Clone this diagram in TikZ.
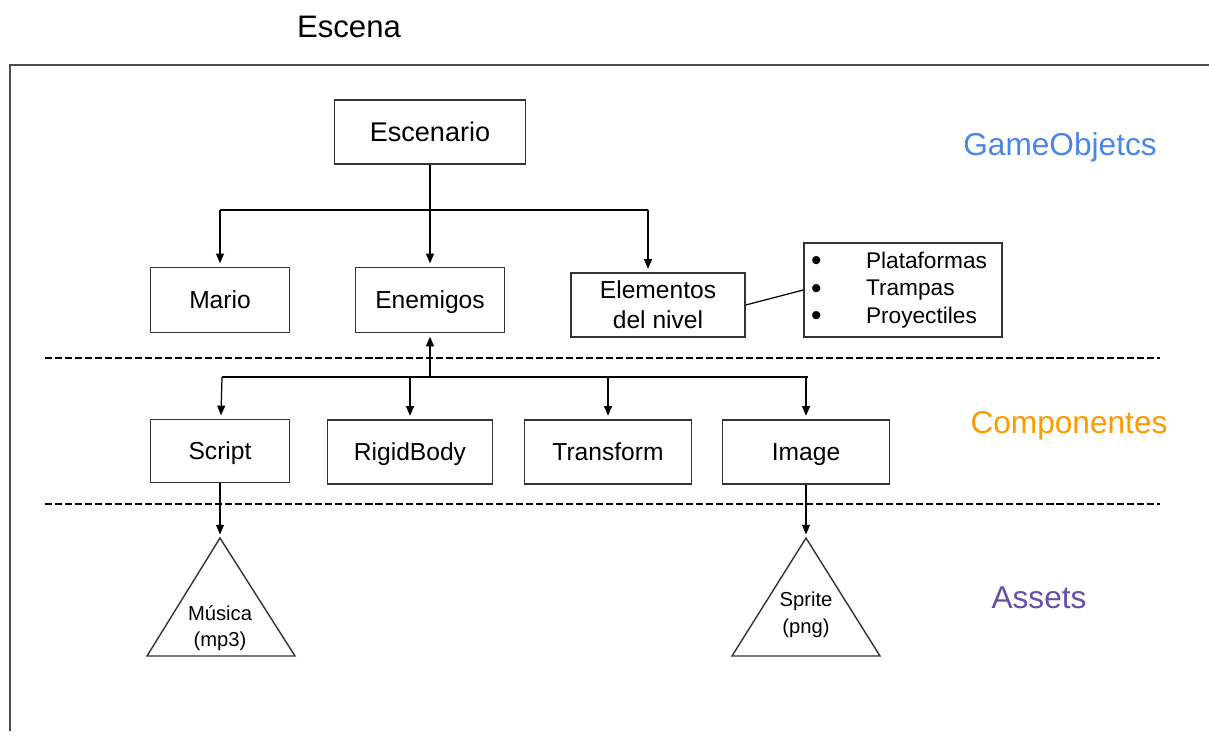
\documentclass[tikz,border=0pt]{standalone}
\usepackage{fontspec}
\setmainfont{Liberation Sans}
\usetikzlibrary{arrows.meta}

\definecolor{azulgo}{HTML}{4A86E8}
\definecolor{naranja}{HTML}{FF9900}
\definecolor{morado}{HTML}{674EA7}

\newcommand{\punto}{\makebox[1.1cm][l]{\smash{\raisebox{-0.1em}{\fontsize{17}{15}\selectfont•}}}}

\begin{document}
\begin{tikzpicture}[x=0.02cm,y=-0.02cm,
  caja/.style={draw=black!80,line width=0.8pt,minimum height=1.3cm,inner sep=0pt,
    align=center,font=\fontsize{14}{17}\selectfont},
  unalinea/.style={caja,text height=10pt,text depth=0pt},
  flecha/.style={-{Triangle[length=5.5pt,width=4.5pt]},line width=0.7pt,shorten >=2pt},
  linea/.style={line width=0.7pt},
  separador/.style={line width=1.2pt,dash pattern=on 4pt off 1.7pt},
  etiqueta/.style={font=\fontsize{18}{21}\selectfont}]
\useasboundingbox (0,0) rectangle (1209,731);

\node (escena) at (349,27) {\fontsize{17.7}{20}\selectfont Escena};
\draw[line width=1.1pt,black!70] (10,731) -- (10,65) -- (1209,65);

% GameObjects
\node[unalinea,minimum width=3.82cm,minimum height=1.28cm,text height=11pt,
  font=\fontsize{15.4}{18}\selectfont] (escenario) at (430,132) {Escenario};
\node[unalinea,minimum width=2.78cm] (mario) at (220,300) {Mario};
\node[unalinea,minimum width=2.98cm] (enemigos) at (430,300) {Enemigos};
\node[caja,minimum width=3.48cm,minimum height=1.28cm] (elementos) at (658,305) {Elementos\\del nivel};
\node[caja,minimum height=1.88cm,text width=3.68cm,inner xsep=0.14cm,align=left,
  font=\fontsize{12.9}{15.6}\selectfont] (lista) at (903,290)
  {\punto Plataformas\\\punto Trampas\\\punto Proyectiles};

\coordinate (g1) at (220,210);
\coordinate (g2) at (648,210);
\draw[linea] (g1) -- (g2);
\draw[flecha] (escenario) -- (enemigos);
\draw[flecha] (g1) -- (mario);
\draw[flecha] (g2) -- (elementos.north -| g2);
\draw[linea] (elementos.east) -- (lista.west);

\draw[separador] (45,358) -- (1160,358);

% Componentes
\node[unalinea,minimum width=2.78cm,minimum height=1.26cm] (script) at (220,451) {Script};
\node[unalinea,minimum width=3.3cm,minimum height=1.28cm] (rigidbody) at (410,452) {RigidBody};
\node[unalinea,minimum width=3.34cm,minimum height=1.28cm] (transform) at (608,452) {Transform};
\node[unalinea,minimum width=3.34cm,minimum height=1.28cm] (image) at (806,452) {Image};

\coordinate (c0) at (430,377);
\coordinate (c1) at (222,377);
\coordinate (c2) at (410,377);
\coordinate (c3) at (608,377);
\coordinate (c4) at (806,377);
\coordinate (c5) at (808,377);
\draw[linea] (c1) -- (c5);
\draw[flecha] (c0) -- (enemigos);
\draw[flecha] (c1) -- (script);
\draw[flecha] (c2) -- (rigidbody);
\draw[flecha] (c3) -- (transform);
\draw[flecha] (c4) -- (image);

\draw[separador] (45,504) -- (1160,504);

% Assets
\coordinate (musica) at (220,538);
\coordinate (sprite) at (806,538);
\draw[line width=0.8pt,black!80,line join=miter] (musica) -- (295,656) -- (147,656) -- cycle;
\draw[line width=0.8pt,black!80,line join=miter] (sprite) -- (880,656) -- (732,656) -- cycle;
\node[align=center,font=\fontsize{11.5}{14.8}\selectfont] (txtmusica) at (220,628) {Música\\(mp3)};
\node[align=center,font=\fontsize{11.5}{15.2}\selectfont] (txtsprite) at (806,615) {Sprite\\(png)};
\draw[flecha] (script) -- (musica);
\draw[flecha] (image) -- (sprite);

\node[etiqueta,text=azulgo] (lblgame) at (1060,147) {GameObjetcs};
\node[etiqueta,text=naranja] (lblcomp) at (1069,426) {Componentes};
\node[etiqueta,text=morado] (lblassets) at (1039,598) {Assets};
\end{tikzpicture}
\end{document}
